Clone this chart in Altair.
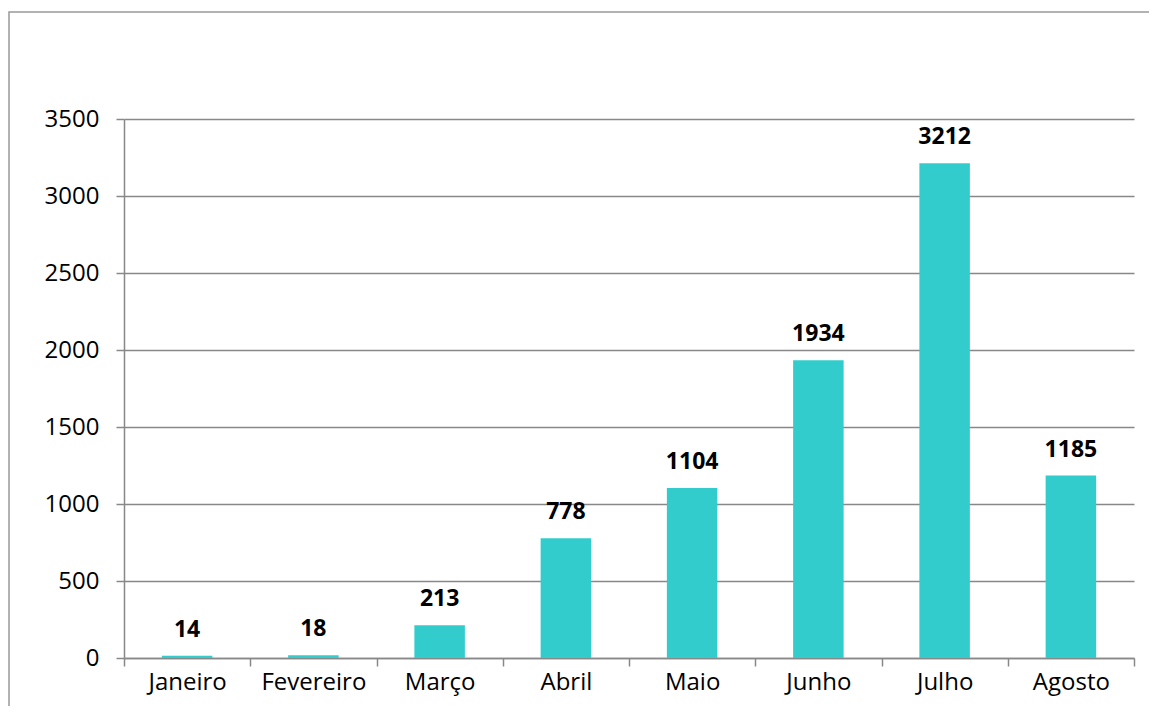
import altair as alt
import pandas as pd

months = ["Janeiro", "Fevereiro", "Março", "Abril", "Maio", "Junho", "Julho", "Agosto"]
values = [14, 18, 213, 778, 1104, 1934, 3212, 1185]
y_ticks = [0, 500, 1000, 1500, 2000, 2500, 3000, 3500]

df = pd.DataFrame({"mes": months, "valor": values})

FONT = "Open Sans"
GRAY = "#888888"

x_enc = alt.X(
    "mes:N",
    sort=months,
    scale=alt.Scale(paddingInner=0, paddingOuter=0),
    axis=alt.Axis(
        title=None,
        labelAngle=0,
        tickBand="extent",
        tickSize=8,
        tickColor=GRAY,
        tickWidth=1.5,
        domainColor=GRAY,
        domainWidth=1.5,
        labelFont=FONT,
        labelFontSize=24,
        labelColor="black",
        labelPadding=4,
        grid=False,
    ),
)
y_enc = alt.Y(
    "valor:Q",
    scale=alt.Scale(domain=[0, 3500], nice=False),
    axis=alt.Axis(
        title=None,
        values=y_ticks,
        format="d",
        tickSize=8,
        tickColor=GRAY,
        tickWidth=1.5,
        domainColor=GRAY,
        domainWidth=1.5,
        grid=True,
        gridColor=GRAY,
        gridWidth=1.5,
        labelFont=FONT,
        labelFontSize=24,
        labelColor="black",
        labelPadding=17,
    ),
)

bars = alt.Chart(df).mark_bar(color="#33CCCC", width=alt.RelativeBandSize(0.4)).encode(
    x=x_enc, y=y_enc
)

labels = alt.Chart(df).mark_text(
    font=FONT, fontSize=23, fontWeight="bold", color="black",
    baseline="alphabetic", dy=-19,
).encode(x=alt.X("mes:N", sort=months), y="valor:Q", text="valor:Q")

frame = alt.Chart(pd.DataFrame({"a": [0]})).mark_rect(
    fillOpacity=0, stroke="#999999", strokeWidth=1.5
).encode(
    x=alt.value(-115), x2=alt.value(1200),
    y=alt.value(-107), y2=alt.value(800),
)

chart = alt.layer(frame, bars, labels).properties(
    width=1010,
    height=539,
    padding={"left": 116, "top": 111, "right": 15, "bottom": 48},
    autosize=alt.AutoSizeParams(type="none"),
).configure_view(stroke=None)

chart.save("out.html", embed_options={"renderer": "svg", "actions": False})
